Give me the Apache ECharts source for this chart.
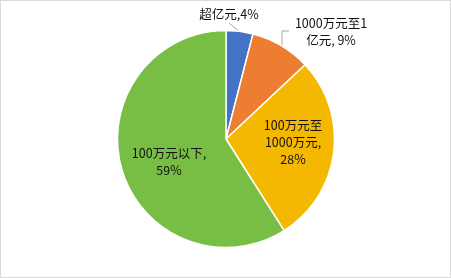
<!DOCTYPE html>
<html><head><meta charset="utf-8">
<script src="https://cdn.jsdelivr.net/npm/echarts@6/dist/echarts.min.js"></script>
<style>
html,body{margin:0;padding:0;background:#fff;}
#c{width:451px;height:278px;box-sizing:border-box;border:1px solid #d9d9d9;}
</style></head>
<body><div id="c"></div>
<script>
var categories = ['超亿元', '1000万元至1亿元', '100万元至1000万元', '100万元以下'];
var values = [4, 9, 28, 59];
var labelTexts = ['超亿元,4%', '1000万元至1\n亿元, 9%', '100万元至\n1000万元,\n28%', '100万元以下,\n59%'];
var colors = ['#4472C4', '#ED7D31', '#F5B800', '#78BE44'];

var chart = echarts.init(document.getElementById('c'), null, {renderer: 'canvas'});
var labelPos = [
  {x: 228, y: 13, lines: [[240, 32], [228, 22]]},
  {x: 330, y: 31, lines: [[281, 45], [281, 30], [288, 30]]},
  {x: 292, y: 141, lines: null},
  {x: 168, y: 161, lines: null}
];
chart.setOption({
  animation: false,
  series: [{
    type: 'pie',
    center: [225, 138],
    radius: 108.5,
    startAngle: 90,
    clockwise: true,
    itemStyle: {borderColor: '#fff', borderWidth: 1.5},
    label: {
      show: true,
      formatter: function (p) { return labelTexts[p.dataIndex]; },
      fontFamily: 'Noto Sans CJK SC',
      fontSize: 12.5,
      lineHeight: 17,
      color: '#111',
      align: 'center'
    },
    labelLine: {show: true, lineStyle: {color: '#A6A6A6', width: 1}, length: 10, length2: 10},
    labelLayout: function (params) {
      var lp = labelPos[params.dataIndex];
      var r = {x: lp.x, y: lp.y, align: 'center', verticalAlign: 'middle'};
      if (lp.lines) r.labelLinePoints = lp.lines;
      return r;
    },
    data: categories.map(function (c, i) {
      var d = {name: c, value: values[i], itemStyle: {color: colors[i]}};
      if (i >= 2) {
        d.label = {position: 'inside'};
        d.labelLine = {show: false};
      }
      return d;
    })
  }]
});
</script></body></html>
